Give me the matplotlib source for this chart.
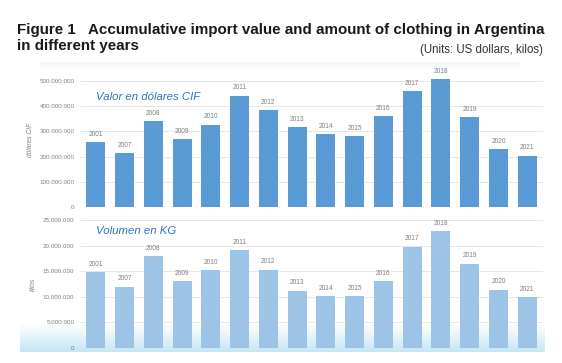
import numpy as np
import matplotlib
matplotlib.use("Agg")
import matplotlib.pyplot as plt
from matplotlib.colors import LinearSegmentedColormap

# ---- data -------------------------------------------------------------------
YEARS = ["2001", "2007", "2008", "2009", "2010", "2011", "2012", "2013",
         "2014", "2015", "2016", "2017", "2018", "2019", "2020", "2021"]
VALUE_USD = [258e6, 214e6, 340e6, 271e6, 327e6, 442e6, 386e6, 316e6,
             290e6, 282e6, 362e6, 461e6, 507e6, 356e6, 230e6, 204e6]
VOLUME_KG = [14.8e6, 12.0e6, 18.0e6, 13.0e6, 15.2e6, 19.2e6, 15.3e6, 11.2e6,
             10.2e6, 10.2e6, 13.1e6, 19.8e6, 22.85e6, 16.5e6, 11.4e6, 10.0e6]
VALUE_TICKS = [0, 100e6, 200e6, 300e6, 400e6, 500e6]
VOLUME_TICKS = [0, 5e6, 10e6, 15e6, 20e6, 25e6]

TITLE_1 = "Figure 1   Accumulative import value and amount of clothing in Argentina"
TITLE_2 = "in different years"
UNITS = "(Units: US dollars, kilos)"

# ---- style ------------------------------------------------------------------
W, H = 562, 363
BLUE_DARK = "#5B9BD5"
BLUE_LIGHT = "#9DC3E6"
GRID = "#E3E3E3"
TXT = "#7F7F7F"
HEAD = "#2E75B6"
TITLE_FONT = ["Liberation Sans", "DejaVu Sans"]
CHART_FONT = ["Liberation Sans", "DejaVu Sans"]

fig = plt.figure(figsize=(W / 100, H / 100), dpi=100)


def px_axes(x0, y0, x1, y1, **kw):
    # pixel box (top-left origin) -> figure fraction
    return fig.add_axes([x0 / W, 1 - y1 / H, (x1 - x0) / W, (y1 - y0) / H], **kw)


# background gradients (screenshot look)
bg = px_axes(20, 324, 545, 352, zorder=0)
cmap = LinearSegmentedColormap.from_list("g", ["#ffffff", "#c6e6f4"])
bg.imshow(np.linspace(0, 1, 64)[:, None], aspect="auto", cmap=cmap)
bg.axis("off")
top_bg = px_axes(40, 62, 520, 70, zorder=0)
cmap2 = LinearSegmentedColormap.from_list("g2", ["#eef6fb", "#ffffff"])
top_bg.imshow(np.linspace(0, 1, 32)[:, None], aspect="auto", cmap=cmap2)
top_bg.axis("off")


def panel(ax, values, ticks, top, color, head, head_y, ylabel):
    x = np.arange(len(YEARS))
    bars = ax.bar(x, values, width=0.66, color=color, zorder=2)
    ax.bar_label(bars, labels=YEARS, padding=3, fontsize=4.7, color=TXT,
                 family=CHART_FONT)
    ax.set_xlim(-0.55, len(YEARS) - 0.45)
    ax.set_ylim(0, top)
    ax.set_yticks(ticks)
    ax.set_yticklabels([f"{int(t):,}".replace(",", ".") for t in ticks],
                       fontsize=4.5, color=TXT, family=CHART_FONT)
    ax.set_xticks([])
    ax.tick_params(axis="y", length=0, pad=4)
    ax.grid(axis="y", color=GRID, lw=0.6, zorder=0)
    ax.set_axisbelow(True)
    for s in ax.spines.values():
        s.set_visible(False)
    ax.set_facecolor("none")
    ax.set_ylabel(ylabel, fontsize=4.8, color=TXT, style="italic",
                  family=CHART_FONT, labelpad=4)
    ax.text(0.035, head_y, head, transform=ax.transAxes, fontsize=8.2,
            style="italic", color=HEAD, family=CHART_FONT, va="center")


# top panel: 0 at y=207 px, 500M at y=81 px; extend a bit above for 2018
top1 = 530e6
ax1 = px_axes(80, 207 - 126 * top1 / 500e6, 543, 207, zorder=2)
panel(ax1, VALUE_USD, VALUE_TICKS, top1, BLUE_DARK, "Valor en dólares CIF",
      (207 - 97.5) / (126 * top1 / 500e6), "dólares CIF")
ax2 = px_axes(80, 220, 543, 348, zorder=2)
panel(ax2, VOLUME_KG, VOLUME_TICKS, 25e6, BLUE_LIGHT, "Volumen en KG",
      (348 - 231) / 128, "kilos")

# titles
fig.text(17 / W, 1 - 34 / H, TITLE_1, fontsize=10.9, weight="bold",
         color="#1a1a1a", family=TITLE_FONT, va="baseline")
fig.text(17 / W, 1 - 50 / H, TITLE_2, fontsize=10.9, weight="bold",
         color="#1a1a1a", family=TITLE_FONT, va="baseline")
fig.text(543 / W, 1 - 53 / H, UNITS, fontsize=8.3, color="#333333",
         family=TITLE_FONT, va="baseline", ha="right")

fig.savefig("out.png", dpi=100)
